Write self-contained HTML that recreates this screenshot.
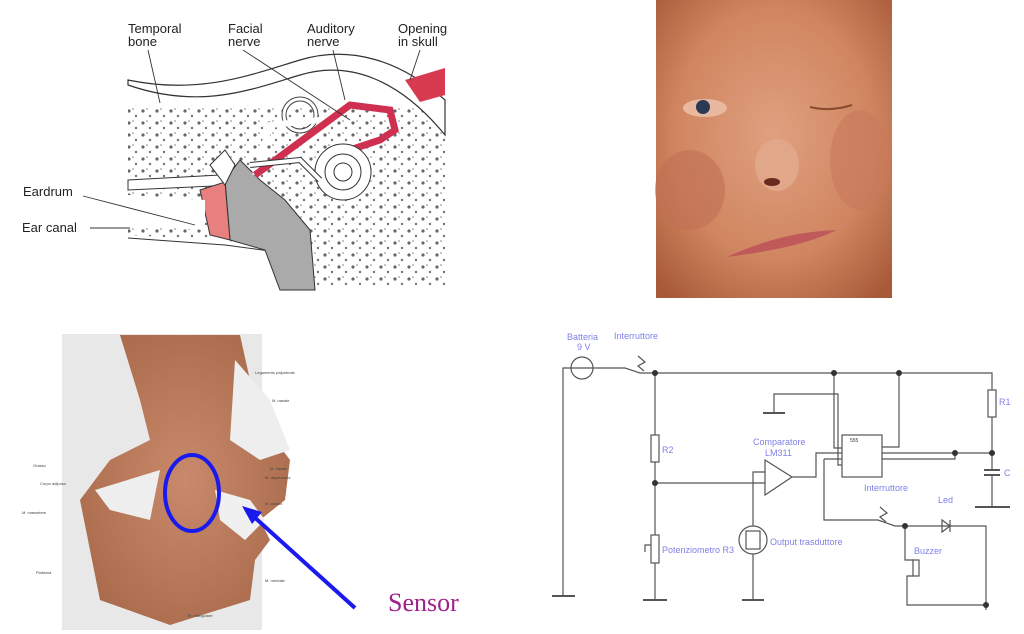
<!DOCTYPE html>
<html><head><meta charset="utf-8"><style>
html,body{margin:0;padding:0;background:#fff;}
svg{display:block}
</style></head><body>
<svg width="1024" height="634" viewBox="0 0 1024 634" xmlns="http://www.w3.org/2000/svg" font-family="Liberation Sans, sans-serif">
<defs>
<radialGradient id="face" cx="0.5" cy="0.45" r="0.7">
<stop offset="0" stop-color="#e0a080"/><stop offset="0.6" stop-color="#d08660"/><stop offset="1" stop-color="#a85a38"/>
</radialGradient>
<radialGradient id="musc" cx="0.5" cy="0.5" r="0.6">
<stop offset="0" stop-color="#c88a6a"/><stop offset="1" stop-color="#a86a4a"/>
</radialGradient>
<pattern id="dots" width="14" height="12" patternUnits="userSpaceOnUse">
<circle cx="3" cy="3" r="1.6" fill="#333"/><circle cx="10" cy="8" r="1.2" fill="#444"/><circle cx="7" cy="1" r="0.8" fill="#555"/>
</pattern>
</defs>

<!-- Ear diagram -->
<g>
<rect x="128" y="105" width="320" height="180" fill="url(#dots)" opacity="0.75"/>
<path d="M128,85 C200,110 250,90 300,75 C350,60 400,80 445,135 L445,100 C400,60 350,45 300,60 C250,75 200,95 128,80Z" fill="#fff" stroke="#333" stroke-width="1.2"/>
<path d="M128,180 L220,175 L235,185 L128,190Z" fill="#fff" stroke="#333"/>
<path d="M128,235 L220,240 L300,250 L320,290 L128,290Z" fill="#fff"/>
<path d="M128,238 L225,245 L300,255" fill="none" stroke="#333"/>
<path d="M225,180 L240,160 L260,180 L285,200 L310,230 L315,290 L280,290 L265,250 L230,240Z" fill="#aaa" stroke="#333"/>
<path d="M200,190 L225,182 L230,240 L210,235Z" fill="#e88080" stroke="#333"/>
<path d="M128,195 L205,200 L205,230 L128,225Z" fill="#fff"/>
<path d="M210,165 L225,150 L235,165 L225,185Z" fill="#fff" stroke="#333"/>
<circle cx="300" cy="115" r="16" fill="none" stroke="#444" stroke-width="5"/>
<circle cx="300" cy="115" r="16" fill="none" stroke="#fff" stroke-width="3"/>
<path d="M255,175 L270,125 L320,120" stroke="#fff" stroke-width="6" fill="none"/>
<path d="M255,175 L350,105 L390,110 L395,130 L380,140 L350,150" stroke="#d03050" stroke-width="7" fill="none"/>
<circle cx="343" cy="172" r="28" fill="#fff" stroke="#333"/>
<circle cx="343" cy="172" r="18" fill="none" stroke="#333"/>
<circle cx="343" cy="172" r="9" fill="none" stroke="#333"/>
<path d="M250,165 L300,160 L320,180" stroke="#333" stroke-width="6" fill="none"/>
<path d="M250,165 L300,160 L320,180" stroke="#fff" stroke-width="4" fill="none"/>
<path d="M405,80 L445,68 L445,95 L420,102Z" fill="#d83a50"/>
<text x="128" y="33" font-size="13" fill="#222">Temporal</text><text x="128" y="46" font-size="13" fill="#222">bone</text>
<text x="228" y="33" font-size="13" fill="#222">Facial</text><text x="228" y="46" font-size="13" fill="#222">nerve</text>
<text x="307" y="33" font-size="13" fill="#222">Auditory</text><text x="307" y="46" font-size="13" fill="#222">nerve</text>
<text x="398" y="33" font-size="13" fill="#222">Opening</text><text x="398" y="46" font-size="13" fill="#222">in skull</text>
<text x="23" y="196" font-size="13" fill="#222">Eardrum</text>
<text x="22" y="232" font-size="13" fill="#222">Ear canal</text>
<g stroke="#333" fill="none" stroke-width="0.9">
<line x1="148" y1="50" x2="160" y2="103"/><line x1="243" y1="50" x2="350" y2="120"/>
<line x1="333" y1="50" x2="345" y2="100"/><line x1="420" y1="50" x2="410" y2="80"/>
<line x1="83" y1="196" x2="195" y2="225"/><line x1="90" y1="228" x2="130" y2="228"/>
</g>
</g>

<!-- Face photo -->
<rect x="656" y="0" width="236" height="298" fill="url(#face)"/>
<ellipse cx="690" cy="190" rx="35" ry="40" fill="#c07055" opacity="0.6"/>
<ellipse cx="860" cy="160" rx="30" ry="50" fill="#c87a5c" opacity="0.6"/>
<ellipse cx="705" cy="108" rx="22" ry="9" fill="#e8b8a0"/>
<circle cx="703" cy="107" r="7" fill="#2a3a55"/>
<path d="M810,107 Q830,112 852,105" stroke="#8a4a30" stroke-width="2" fill="none"/>
<ellipse cx="777" cy="165" rx="22" ry="26" fill="#e0a888"/>
<ellipse cx="772" cy="182" rx="8" ry="4" fill="#6a2a20"/>
<path d="M727,257 Q780,232 837,230 Q800,248 727,257Z" fill="#c05a5a"/>

<!-- Muscle illustration -->
<rect x="62" y="334" width="200" height="296" fill="#e8e8e8"/>
<path d="M120,335 L240,335 L250,380 L260,420 L290,460 L285,500 L260,520 L270,540 L255,560 L250,600 L170,625 L100,600 L80,500 L110,460 L150,440 L140,400Z" fill="url(#musc)"/>
<path d="M235,360 L270,400 L290,450 L260,460 L230,440Z" fill="#eee"/>
<path d="M215,490 L250,500 L265,520 L245,540 L220,520Z" fill="#f0f0f0"/>
<path d="M95,490 L160,470 L150,520 L110,510Z" fill="#eee"/>
<ellipse cx="192" cy="493" rx="27" ry="38" fill="none" stroke="#1a1aee" stroke-width="4"/>
<line x1="355" y1="608" x2="252" y2="515" stroke="#1a1aee" stroke-width="4"/>
<polygon points="242,506 262,512 252,524" fill="#1a1aee"/>
<text x="388" y="611" style="font-family:'Liberation Serif',serif" font-size="26" fill="#a0208a">Sensor</text>
<g font-size="4" fill="#444">
<text x="255" y="374">Legamento palpebrale</text><text x="272" y="402">M. nasale</text>
<text x="270" y="470">M. nasale</text><text x="265" y="479">M. depressore</text>
<text x="265" y="505">M. canino</text><text x="33" y="467">Grasso</text>
<text x="40" y="485">Corpo adiposo</text><text x="22" y="514">M. massetere</text>
<text x="36" y="574">Platisma</text><text x="265" y="582">M. mentale</text>
<text x="188" y="617">M. triangolare</text>
</g>

<!-- Circuit -->
<g stroke="#555" stroke-width="1.2" fill="none">
<circle cx="582" cy="368" r="11"/>
<polyline points="563,596 563,368 625,368 640,373 655,373 992,373 992,390"/>
<rect x="988" y="390" width="8" height="27"/>
<line x1="992" y1="417" x2="992" y2="470"/>
<line x1="984" y1="470" x2="1000" y2="470" stroke-width="2"/><line x1="984" y1="475" x2="1000" y2="475" stroke-width="2"/>
<line x1="992" y1="475" x2="992" y2="507"/><line x1="975" y1="507" x2="1010" y2="507" stroke-width="2"/>
<line x1="552" y1="596" x2="575" y2="596" stroke-width="2"/>
<line x1="655" y1="373" x2="655" y2="435"/><rect x="651" y="435" width="8" height="27"/>
<line x1="655" y1="462" x2="655" y2="535"/><rect x="651" y="535" width="8" height="28"/>
<polyline points="651,545 645,545 645,552"/>
<line x1="655" y1="563" x2="655" y2="600"/><line x1="643" y1="600" x2="667" y2="600" stroke-width="2"/>
<line x1="655" y1="483" x2="765" y2="483"/>
<polygon points="765,460 792,477 765,495"/>
<polyline points="792,477 816,477 816,453 842,453"/>
<polyline points="753,526 753,472 765,472"/>
<circle cx="753" cy="540" r="14"/><rect x="746" y="531" width="14" height="18"/>
<line x1="753" y1="554" x2="753" y2="600"/><line x1="742" y1="600" x2="764" y2="600" stroke-width="2"/>
<rect x="842" y="435" width="40" height="42"/>
<polyline points="834,373 834,448 842,448"/>
<polyline points="899,373 899,447 882,447"/>
<polyline points="763,413 774,413 774,394 838,394 838,465 842,465"/>
<line x1="763" y1="413" x2="785" y2="413" stroke-width="2"/>
<polyline points="882,453 992,453"/><polyline points="882,459 955,459 955,453"/>
<polyline points="824,459 842,459"/><polyline points="824,459 824,520 878,520 895,526 986,526 986,610"/>
<polygon points="942,520 942,532 950,526" />
<line x1="950" y1="520" x2="950" y2="532"/>
<polyline points="905,526 905,560 913,560"/><rect x="913" y="560" width="6" height="16"/>
<polyline points="913,576 907,576 907,605 986,605"/>
<polyline points="638,356 645,362 638,366 644,371"/>
<polyline points="880,507 887,513 880,517 886,522"/>
</g>
<g fill="#333">
<circle cx="655" cy="373" r="3"/><circle cx="834" cy="373" r="3"/><circle cx="899" cy="373" r="3"/>
<circle cx="992" cy="453" r="3"/><circle cx="955" cy="453" r="3"/><circle cx="655" cy="483" r="3"/>
<circle cx="905" cy="526" r="3"/><circle cx="986" cy="605" r="3"/>
</g>
<g font-size="9" fill="#8080e8">
<text x="567" y="340">Batteria</text><text x="577" y="350">9 V</text>
<text x="614" y="339">Interruttore</text>
<text x="999" y="405">R1</text><text x="662" y="453">R2</text><text x="1004" y="476">C</text>
<text x="753" y="445">Comparatore</text><text x="765" y="456">LM311</text>
<text x="864" y="491">Interruttore</text><text x="938" y="503">Led</text>
<text x="914" y="554">Buzzer</text>
<text x="662" y="553">Potenziometro R3</text><text x="770" y="545">Output trasduttore</text>
</g>
<text x="850" y="442" font-size="5" fill="#333">555</text>
</svg>
</body></html>
